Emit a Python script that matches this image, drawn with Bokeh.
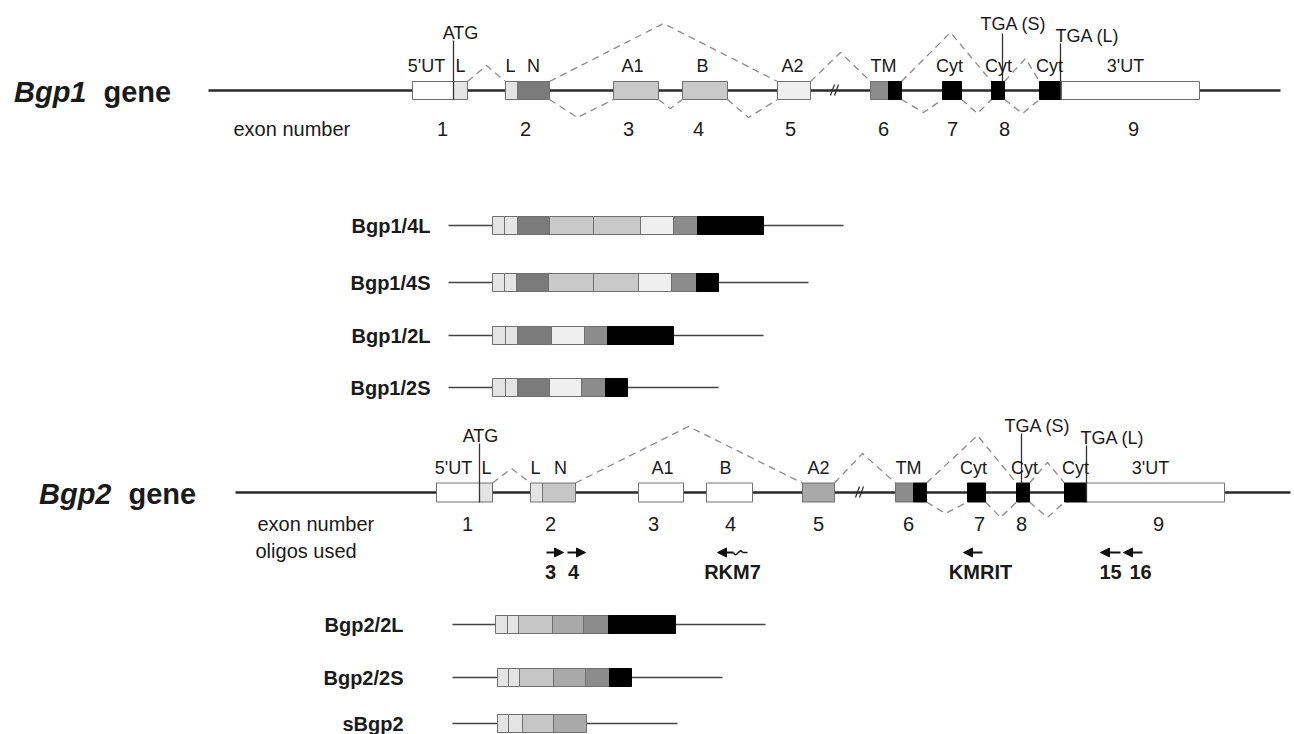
from bokeh.plotting import figure
from bokeh.models import Range1d, ColumnDataSource, Arrow, NormalHead
from bokeh.core.properties import value
from bokeh.embed import file_html
from bokeh.resources import INLINE

# ---------------- data (diagram units = pixels of the original figure) ----------------
exon_numbers = ["1", "2", "3", "4", "5", "6", "7", "8", "9"]

# Bgp1 gene
bgp1_y = 90
bgp1_line = [208, 1280]
bgp1_seg_x0 = [412, 453, 505, 517, 613, 682, 777, 870, 888, 942, 991, 1039, 1061]
bgp1_seg_x1 = [453, 467, 517, 549, 658, 727, 810, 888, 901, 961, 1004, 1061, 1199]
bgp1_seg_kind = ["utr", "lead", "lead", "N1", "AB1", "AB1", "A2_1", "TM", "cyt", "cyt", "cyt", "cyt", "utr"]
bgp1_dom_text = ["5'UT", "L", "L", "N", "A1", "B", "A2", "TM", "Cyt", "Cyt", "Cyt", "3'UT"]
bgp1_dom_x = [426, 460, 510, 533, 632, 702, 792, 883, 949, 998, 1049, 1125]
bgp1_dom_y = 65
bgp1_exon_x = [442, 525, 628, 698, 790, 883, 952, 1004, 1133]
bgp1_exon_y = 128
bgp1_break_x = [835]
bgp1_top_x = [[467, 486, 505], [549, 663, 777], [810, 840, 870], [901, 950, 991], [1004, 1025, 1039]]
bgp1_top_peak = [65, 23, 52, 32, 58]
bgp1_bot_x = [[549, 577, 613], [658, 670, 682], [727, 748, 777], [901, 923, 942], [961, 977, 991], [1004, 1022, 1039]]
bgp1_bot_peak = [117, 108, 117, 112, 113, 113]
bgp1_codon_text = ["ATG", "TGA (S)", "TGA (L)"]
bgp1_codon_tx = [460, 1013, 1087]
bgp1_codon_ty = [32, 23, 35]
bgp1_codon_x = [453, 1002, 1060]
bgp1_codon_y0 = [40, 33, 43]
bgp1_codon_y1 = [99, 81, 99]

# Bgp1 transcripts
bgp1_tx_names = ["Bgp1/4L", "Bgp1/4S", "Bgp1/2L", "Bgp1/2S"]
bgp1_tx_y = [225, 282, 335, 387]
bgp1_tx_edges = [[492, 504, 517, 549, 593, 640, 673, 697, 763],
                 [492, 504, 516, 548, 593, 638, 671, 696, 718],
                 [492, 505, 517, 551, 584, 607, 673],
                 [492, 505, 517, 549, 581, 605, 627]]
bgp1_tx_kinds = [["lead", "lead", "N1", "AB1", "AB1", "A2_1", "TM", "cyt"],
                 ["lead", "lead", "N1", "AB1", "AB1", "A2_1", "TM", "cyt"],
                 ["lead", "lead", "N1", "A2_1", "TM", "cyt"],
                 ["lead", "lead", "N1", "A2_1", "TM", "cyt"]]
bgp1_tx_start = 448
bgp1_tx_end = [843, 808, 763, 718]
bgp1_tx_label_x = 430

# Bgp2 gene
bgp2_y = 492
bgp2_line = [235, 1290]
bgp2_seg_x0 = [436, 479, 530, 542, 638, 706, 802, 895, 913, 967, 1016, 1064, 1086]
bgp2_seg_x1 = [479, 492, 542, 575, 683, 752, 834, 913, 926, 985, 1029, 1086, 1224]
bgp2_seg_kind = ["utr", "lead", "lead", "N2", "AB2", "AB2", "A2_2", "TM", "cyt", "cyt", "cyt", "cyt", "utr"]
bgp2_dom_text = ["5'UT", "L", "L", "N", "A1", "B", "A2", "TM", "Cyt", "Cyt", "Cyt", "3'UT"]
bgp2_dom_x = [453, 486, 535, 560, 662, 725, 818, 908, 973, 1024, 1075, 1150]
bgp2_dom_y = 467
bgp2_exon_x = [467, 550, 653, 730, 818, 908, 979, 1021, 1158]
bgp2_exon_y = 523
bgp2_break_x = [860]
bgp2_top_x = [[492, 511, 530], [575, 688, 802], [834, 862, 895], [926, 977, 1016], [1029, 1047, 1064]]
bgp2_top_peak = [468, 426, 453, 435, 462]
bgp2_bot_x = [[926, 945, 967], [985, 1000, 1016], [1029, 1047, 1064]]
bgp2_bot_peak = [513, 517, 517]
bgp2_codon_text = ["ATG", "TGA (S)", "TGA (L)"]
bgp2_codon_tx = [480, 1037, 1112]
bgp2_codon_ty = [435, 425, 437]
bgp2_codon_x = [479, 1021, 1086]
bgp2_codon_y0 = [443, 433, 445]
bgp2_codon_y1 = [502, 483, 502]

# oligos used
oligo_names = ["3", "4", "RKM7", "KMRIT", "15", "16"]
oligo_tail = [546, 567, 733, 982, 1120, 1142]
oligo_head = [563, 585, 717, 963, 1100, 1123]
oligo_label_x = [550, 573, 732, 980, 1110, 1140]
oligo_arrow_y = 552
oligo_label_y = 571
rkm7_wiggle = [733, 742, 747]

# Bgp2 transcripts
bgp2_tx_names = ["Bgp2/2L", "Bgp2/2S", "sBgp2"]
bgp2_tx_y = [624, 677, 723]
bgp2_tx_edges = [[495, 507, 518, 552, 583, 608, 675],
                 [497, 508, 519, 553, 585, 609, 631],
                 [497, 508, 522, 553, 586]]
bgp2_tx_kinds = [["lead", "lead", "N2", "A2_2", "TM", "cyt"],
                 ["lead", "lead", "N2", "A2_2", "TM", "cyt"],
                 ["lead", "lead", "N2", "A2_2"]]
bgp2_tx_start = 452
bgp2_tx_end = [765, 722, 677]
bgp2_tx_label_x = 403

# ---------------- styles ----------------
kind_color = {"utr": "#ffffff", "lead": "#e4e4e4", "N1": "#7b7b7b", "AB1": "#c9c9c9",
              "A2_1": "#efefef", "TM": "#8c8c8c", "cyt": "#000000", "AB2": "#ffffff",
              "N2": "#c6c6c6", "A2_2": "#a9a9a9"}
FONT = value("Liberation Sans")
TXT = "#1a1a1a"

p = figure(width=1294, height=734, x_range=Range1d(0, 1294), y_range=Range1d(734, 0),
           x_axis_type=None, y_axis_type=None, toolbar_location=None, output_backend="svg",
           min_border=0, outline_line_color=None)
p.grid.visible = False


def boxes(x0, x1, kinds, yc, half):
    p.quad(left=x0, right=x1, top=[yc - half] * len(x0), bottom=[yc + half] * len(x0),
           fill_color=[kind_color[k] for k in kinds],
           line_color=["#000000" if k == "cyt" else "#707070" for k in kinds], line_width=1)


def texts(xs, ys, t, size, style="normal", align="center", baseline="middle"):
    p.text(x=xs, y=ys, text=t, text_font=FONT, text_font_size=size, text_font_style=style,
           text_align=align, text_baseline=baseline, text_color=TXT)


def gene(y, half, line, x0, x1, kinds, dtext, dx, dy, ex, ey, brk, topx, topp, botx, botp,
         ctext, ctx, cty, cx, cy0, cy1, name, name_x, gene_x):
    p.segment(x0=[line[0]], y0=[y], x1=[line[1]], y1=[y], line_color="#2a2a2a", line_width=2.5)
    for b in brk:
        p.segment(x0=[b - 5, b - 1], y0=[y + 5] * 2, x1=[b - 1, b + 3], y1=[y - 6] * 2,
                  line_color="#2a2a2a", line_width=1.2)
    # splice connections
    xs, ys = [], []
    for pts, pk in zip(topx, topp):
        xs.append(pts)
        ys.append([y - half, pk, y - half])
    for pts, pk in zip(botx, botp):
        xs.append(pts)
        ys.append([y + half, pk, y + half])
    p.multi_line(xs=xs, ys=ys, line_color="#8a8a8a", line_width=1.3, line_dash="7 5")
    boxes(x0, x1, kinds, y, half)
    p.segment(x0=cx, y0=cy0, x1=cx, y1=cy1, line_color="#333333", line_width=1.3)
    texts(ctx, cty, ctext, "18px")
    texts(dx, [dy] * len(dx), dtext, "18px")
    texts(ex, [ey] * len(ex), exon_numbers, "20px")
    texts([name_x], [y + 1], [name], "29px", "bold italic", "right", "alphabetic")
    texts([gene_x], [y + 1], ["gene"], "29px", "bold", "left", "alphabetic")


def transcripts(names, ys, edges, kinds, start, ends, label_x):
    p.segment(x0=[start] * len(ys), y0=ys, x1=ends, y1=ys, line_color="#444444", line_width=1.5)
    for yc, e, k in zip(ys, edges, kinds):
        boxes(e[:-1], e[1:], k, yc, 9)
    texts([label_x] * len(ys), ys, names, "20px", "bold", "right")


gene(bgp1_y, 9, bgp1_line, bgp1_seg_x0, bgp1_seg_x1, bgp1_seg_kind, bgp1_dom_text, bgp1_dom_x,
     bgp1_dom_y, bgp1_exon_x, bgp1_exon_y, bgp1_break_x, bgp1_top_x, bgp1_top_peak, bgp1_bot_x,
     bgp1_bot_peak, bgp1_codon_text, bgp1_codon_tx, bgp1_codon_ty, bgp1_codon_x, bgp1_codon_y0,
     bgp1_codon_y1, "Bgp1", 86, 103)
texts([233], [bgp1_exon_y], ["exon number"], "20px", align="left")
transcripts(bgp1_tx_names, bgp1_tx_y, bgp1_tx_edges, bgp1_tx_kinds, bgp1_tx_start, bgp1_tx_end,
            bgp1_tx_label_x)

gene(bgp2_y, 9.5, bgp2_line, bgp2_seg_x0, bgp2_seg_x1, bgp2_seg_kind, bgp2_dom_text, bgp2_dom_x,
     bgp2_dom_y, bgp2_exon_x, bgp2_exon_y, bgp2_break_x, bgp2_top_x, bgp2_top_peak, bgp2_bot_x,
     bgp2_bot_peak, bgp2_codon_text, bgp2_codon_tx, bgp2_codon_ty, bgp2_codon_x, bgp2_codon_y0,
     bgp2_codon_y1, "Bgp2", 111, 128)
texts([257, 255], [bgp2_exon_y, 550], ["exon number", "oligos used"], "20px", align="left")

# oligo arrows
src = ColumnDataSource(dict(xs=oligo_tail, xe=oligo_head, y=[oligo_arrow_y] * len(oligo_tail)))
p.add_layout(Arrow(source=src, x_start="xs", y_start="y", x_end="xe", y_end="y",
                   line_color="#111111", line_width=2,
                   end=NormalHead(size=9, fill_color="#111111", line_color="#111111")))
w0, w1, w2 = rkm7_wiggle
p.bezier(x0=[w0], y0=[oligo_arrow_y], x1=[w1], y1=[oligo_arrow_y],
         cx0=[w0 + 3], cy0=[oligo_arrow_y + 7], cx1=[w1 - 3], cy1=[oligo_arrow_y - 6],
         line_color="#111111", line_width=1.5)
p.segment(x0=[w1], y0=[oligo_arrow_y], x1=[w2], y1=[oligo_arrow_y], line_color="#111111", line_width=1.5)
texts(oligo_label_x, [oligo_label_y] * len(oligo_names), oligo_names, "20px", "bold")

transcripts(bgp2_tx_names, bgp2_tx_y, bgp2_tx_edges, bgp2_tx_kinds, bgp2_tx_start, bgp2_tx_end,
            bgp2_tx_label_x)

open("out.html", "w").write(file_html(p, INLINE))
